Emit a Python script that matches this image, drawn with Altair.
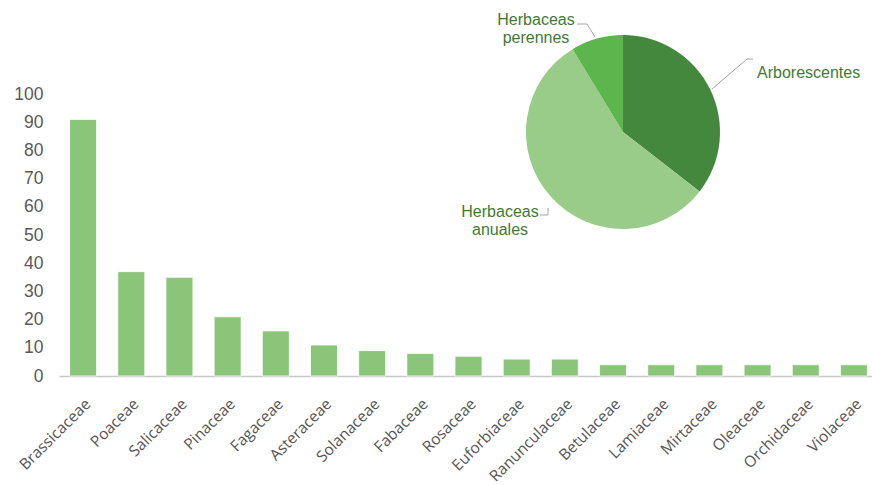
import altair as alt
import pandas as pd

families = ["Brassicaceae", "Poaceae", "Salicaceae", "Pinaceae", "Fagaceae", "Asteraceae",
            "Solanaceae", "Fabaceae", "Rosaceae", "Euforbiaceae", "Ranunculaceae", "Betulaceae",
            "Lamiaceae", "Mirtaceae", "Oleaceae", "Orchidaceae", "Violaceae"]
counts = [91, 37, 35, 21, 16, 11, 9, 8, 7, 6, 6, 4, 4, 4, 4, 4, 4]

habit = ["Arborescentes", "Herbaceas anuales", "Herbaceas perennes"]
habit_share = [35.5, 55.8, 8.7]
habit_colors = ["#43883c", "#98cc88", "#5db54d"]

bars_df = pd.DataFrame({"familia": families, "n": counts})
pie_df = pd.DataFrame({"tipo": habit, "pct": habit_share, "orden": [0, 1, 2]})

OX, OY = 59, 94  # plot origin inside the canvas

bars = alt.Chart(bars_df).mark_bar(color="#8bc57a", stroke="white", strokeWidth=0.8).encode(
    x=alt.X("familia:N", sort=families,
            scale=alt.Scale(paddingInner=0.44, paddingOuter=0.22, range=[0, 819]),
            axis=alt.Axis(title=None, labelAngle=-45, ticks=False, tickSize=0, labelPadding=20,
                          labelFont="Open Sans", labelFontSize=15.5, labelColor="#555555",
                          domainColor="#c8c8c8", domainWidth=1.5, grid=False)),
    y=alt.Y("n:Q", scale=alt.Scale(domain=[0, 100], nice=False),
            axis=alt.Axis(title=None, values=list(range(0, 101, 10)), grid=False, domain=False,
                          ticks=False, labelPadding=16, labelFont="Liberation Sans",
                          labelFontSize=17.5, labelColor="#595959")),
)

pie = alt.Chart(pie_df).mark_arc(outerRadius=97).encode(
    theta=alt.Theta("pct:Q", stack=True),
    order=alt.Order("orden:Q"),
    color=alt.Color("tipo:N", scale=alt.Scale(domain=habit, range=habit_colors), legend=None),
    x=alt.value(623 - OX),
    y=alt.value(132 - OY),
)

def label(lines, px, py, align):
    return alt.Chart(pie_df).transform_filter("datum.orden == 0").mark_text(
        text=lines, align=align, baseline="alphabetic", font="Liberation Sans",
        fontSize=16, color="#3f7a35", lineHeight=18,
    ).encode(x=alt.value(px - OX), y=alt.value(py - OY))

def seg(x1, y1, x2, y2):
    return alt.Chart(pie_df).transform_filter("datum.orden == 0").mark_rule(
        color="#a6a6a6", strokeWidth=1).encode(
        x=alt.value(x1 - OX), y=alt.value(y1 - OY), x2=alt.value(x2 - OX), y2=alt.value(y2 - OY))

labels = [
    label(["Herbaceas", "perennes"], 536, 25, "center"),
    label(["Arborescentes"], 757, 78, "left"),
    label(["Herbaceas", "anuales"], 500, 217, "center"),
]
leaders = [
    seg(577, 24, 587, 24), seg(587, 24, 595, 37),
    seg(753, 59, 747, 59), seg(747, 59, 712, 89),
    seg(540, 215, 548, 215), seg(548, 215, 548, 208),
]

chart = alt.layer(bars, pie, *leaders, *labels).resolve_scale(color="independent").properties(
    width=872 - OX, height=376 - OY,
    background="white",
    autosize=alt.AutoSizeParams(type="none"),
    padding={"left": OX, "top": OY, "right": 0, "bottom": 485 - 376},
).configure_view(stroke=None, strokeWidth=0)

chart.save("out.html", embed_options={"renderer": "svg", "actions": False})
